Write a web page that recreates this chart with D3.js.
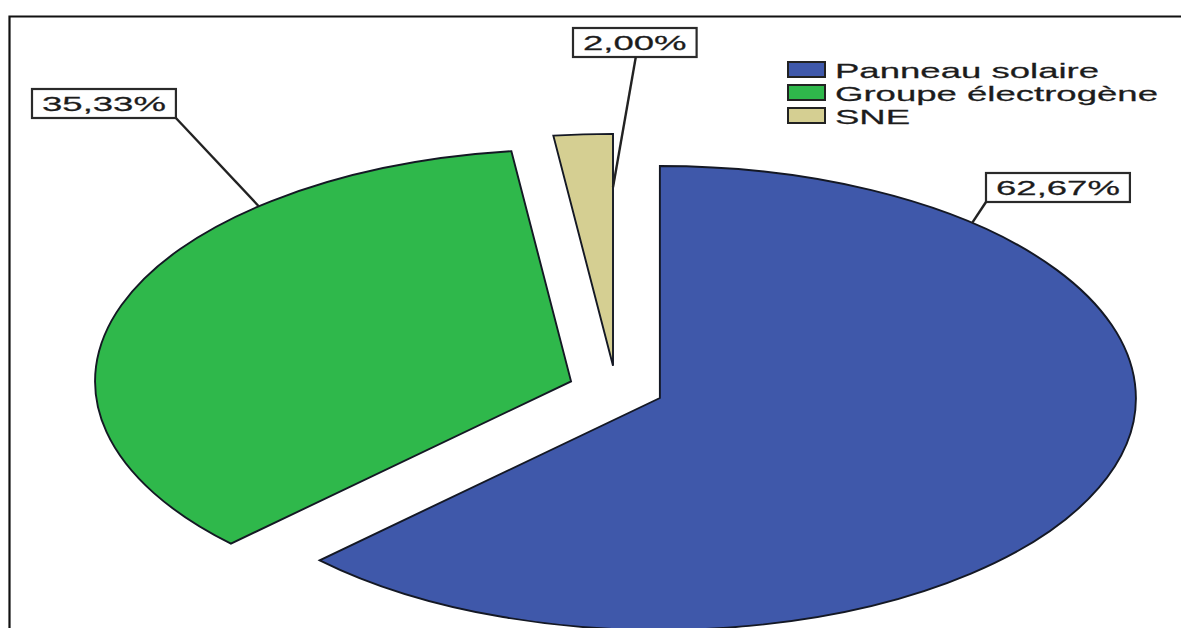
<!DOCTYPE html>
<html>
<head>
<meta charset="utf-8">
<script src="https://cdn.jsdelivr.net/npm/d3@7"></script>
<style>
  html, body { margin: 0; padding: 0; background: #fff; }
  svg { display: block; }
  text { font-family: "Liberation Sans", Arial, sans-serif; fill: #1c1c1c; stroke: #1c1c1c; stroke-width: 0.25; }
</style>
</head>
<body>
<svg id="chart" width="1181" height="628"></svg>
<script>
// Sources d'énergie
const categories = ["Panneau solaire", "Groupe électrogène", "SNE"];
const percentages = [62.67, 35.33, 2.00];
const percentLabels = ["62,67%", "35,33%", "2,00%"];
const colors = ["#3f58aa", "#2fb84b", "#d5cf92"];

const W = 1181, H = 628;
const svg = d3.select("#chart");

// Horizontal stretch applied to the pie and the texts
const TEXT_SX = 1.74;
const R = 232;              // vertical radius
const PIE_SX = 476 / R;     // horizontal stretch of the pie
const CX = 616, CY = 389;   // pie centre
const EXPLODE = 0.1;        // every slice pulled out by 10% of the radius

// Frame (top and left edges)
svg.append("path")
  .attr("d", `M9.5,${H} V16.5 H${W}`)
  .attr("fill", "none")
  .attr("stroke", "#111")
  .attr("stroke-width", 2.2);

const pie = d3.pie().sort(null).value(d => d)(percentages);
const arc = d3.arc().innerRadius(0).outerRadius(R);

const pieG = svg.append("g")
  .attr("transform", `translate(${CX},${CY}) scale(${PIE_SX},1)`);

function offset(d) {
  const mid = (d.startAngle + d.endAngle) / 2;
  return [Math.sin(mid) * R * EXPLODE, -Math.cos(mid) * R * EXPLODE];
}

pieG.selectAll("path.slice")
  .data(pie)
  .join("path")
  .attr("class", "slice")
  .attr("transform", d => { const o = offset(d); return `translate(${o[0]},${o[1]})`; })
  .attr("d", arc)
  .attr("fill", (d, i) => colors[i])
  .attr("stroke", "#141824")
  .attr("stroke-width", 1.9)
  .attr("vector-effect", "non-scaling-stroke");

// Screen position of a point on a slice: angle in degrees (clockwise from top), radius fraction
function slicePoint(i, angleDeg, frac) {
  const d = pie[i];
  const o = offset(d);
  const a = angleDeg * Math.PI / 180;
  return [CX + (o[0] + Math.sin(a) * R * frac) * PIE_SX,
          CY + o[1] - Math.cos(a) * R * frac];
}

// Label boxes: left/top of the box, and where the leader attaches
const labelLayout = [
  { box: [986, 173], anchorAngle: 41, anchorFrac: 1.0, from: "bl" },
  { box: [32, 89],   anchorAngle: 319, anchorFrac: 1.0, from: "br" },
  { box: [573, 28],  anchorAngle: 360, anchorFrac: 0.77, from: "bm" }
];

const labelsG = svg.append("g");
percentLabels.forEach((txt, i) => {
  const L = labelLayout[i];
  const g = labelsG.append("g");
  const t = g.append("text")
    .attr("font-size", 21)
    .attr("transform", `translate(0,0) scale(${TEXT_SX},1)`)
    .text(txt);
  const tw = t.node().getComputedTextLength() * TEXT_SX;
  const padX = 10, bh = 29;
  const bw = tw + 2 * padX;
  const [bx, by] = L.box;
  t.attr("transform", `translate(${bx + padX},${by + 22}) scale(${TEXT_SX},1)`);
  g.insert("rect", "text")
    .attr("x", bx).attr("y", by)
    .attr("width", bw).attr("height", bh)
    .attr("fill", "#fff")
    .attr("stroke", "#2a2a2a")
    .attr("stroke-width", 2.2);
  let start;
  if (L.from === "bl") start = [bx, by + bh];
  else if (L.from === "br") start = [bx + bw, by + bh];
  else start = [bx + bw * 0.5 + 1, by + bh];
  const end = slicePoint(i, L.anchorAngle, L.anchorFrac);
  labelsG.append("line")
    .attr("x1", start[0]).attr("y1", start[1])
    .attr("x2", end[0]).attr("y2", end[1])
    .attr("stroke", "#222")
    .attr("stroke-width", 2.4);
});

// Legend
const legend = svg.append("g").attr("transform", "translate(788,62)");
const rows = legend.selectAll("g.row")
  .data(categories)
  .join("g")
  .attr("class", "row")
  .attr("transform", (d, i) => `translate(0,${i * 23})`);
rows.append("rect")
  .attr("x", 0).attr("y", 0)
  .attr("width", 37).attr("height", 15)
  .attr("fill", (d, i) => colors[i])
  .attr("stroke", "#222")
  .attr("stroke-width", 2);
rows.append("text")
  .attr("font-size", 21)
  .attr("transform", `translate(47,16) scale(${TEXT_SX},1)`)
  .text(d => d);
</script>
</body>
</html>
